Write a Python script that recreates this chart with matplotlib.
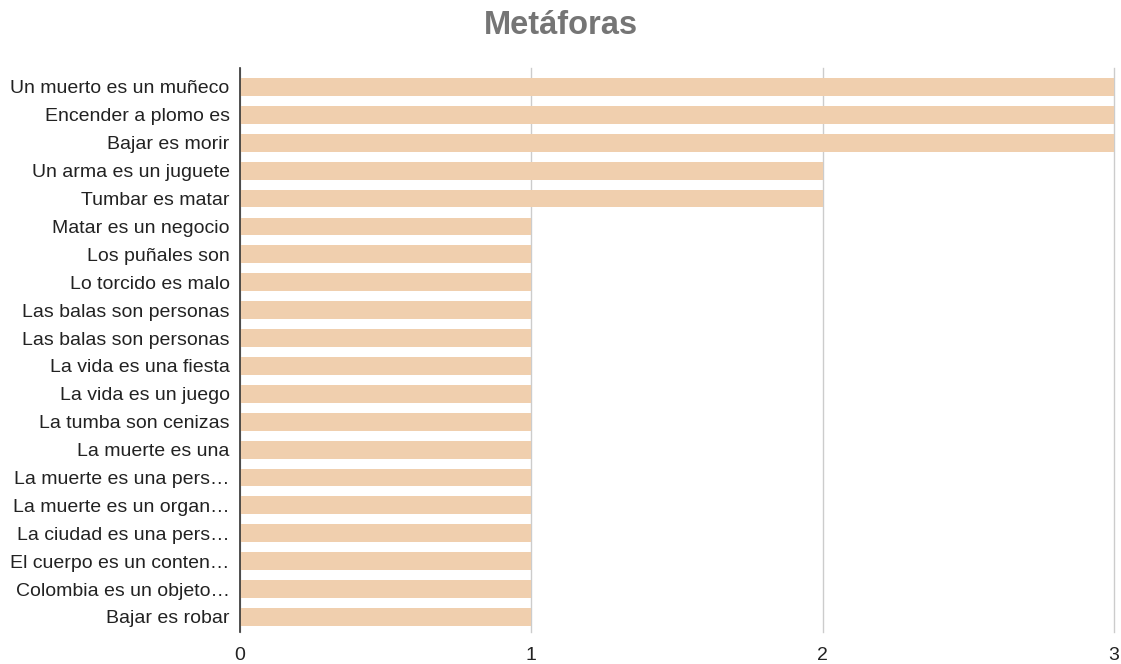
import matplotlib
matplotlib.use("Agg")
import matplotlib.pyplot as plt

categories = [
    "Un muerto es un muñeco",
    "Encender a plomo es",
    "Bajar es morir",
    "Un arma es un juguete",
    "Tumbar es matar",
    "Matar es un negocio",
    "Los puñales son",
    "Lo torcido es malo",
    "Las balas son personas",
    "Las balas son personas",
    "La vida es una fiesta",
    "La vida es un juego",
    "La tumba son cenizas",
    "La muerte es una",
    "La muerte es una pers…",
    "La muerte es un organ…",
    "La ciudad es una pers…",
    "El cuerpo es un conten…",
    "Colombia es un objeto…",
    "Bajar es robar",
]
values = [3, 3, 3, 2, 2, 1, 1, 1, 1, 1, 1, 1, 1, 1, 1, 1, 1, 1, 1, 1]
xticks = [0, 1, 2, 3]
title = "Metáforas"

plt.rcParams['font.family'] = ['Liberation Sans', 'DejaVu Sans']

fig = plt.figure(figsize=(11.21, 6.64), dpi=100)
ax = fig.add_axes([240/1121, 1-632/664, (1114-240)/1121, (632-68)/664])

pos = list(range(len(categories)))
ax.barh(pos, values, height=0.64, color="#F0CFAE", zorder=2)

ax.set_ylim(len(categories) - 1 + 0.54, -0.68)
ax.set_xlim(0, 3)
ax.set_xticks(xticks)
ax.set_xticklabels([str(t) for t in xticks], fontsize=14, color="#222222")
ax.set_yticks(pos)
ax.set_yticklabels(categories, fontsize=14, color="#222222")
ax.tick_params(axis="both", length=0)
ax.tick_params(axis="y", pad=7.5)
ax.tick_params(axis="x", pad=11)

ax.grid(axis="x", color="#CCCCCC", linewidth=1.0, zorder=1)
for gl in ax.get_xgridlines():
    gl.set_clip_on(False)
for s in ["top", "right", "bottom"]:
    ax.spines[s].set_visible(False)
ax.spines["left"].set_color("#333333")
ax.spines["left"].set_linewidth(1.2)
ax.spines["left"].set_zorder(3)

fig.text(561/1121, 1-26/664, title, ha="center", va="center",
         fontsize=23.5, fontweight="bold", color="#757575")

fig.savefig("out.png", dpi=100)
